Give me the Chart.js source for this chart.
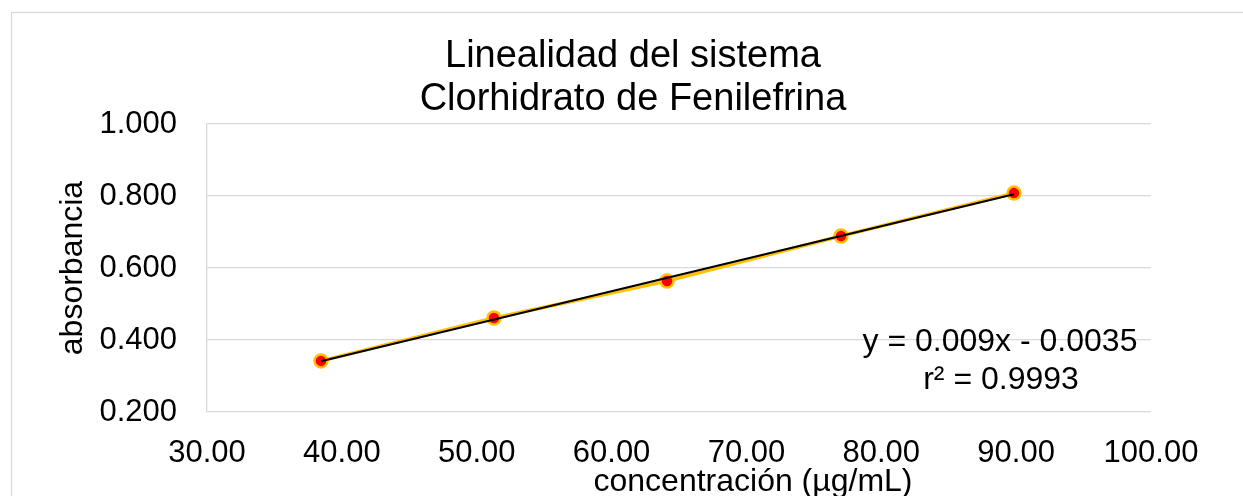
<!DOCTYPE html>
<html>
<head>
<meta charset="utf-8">
<script src="https://cdn.jsdelivr.net/npm/chart.js@4.4.1/dist/chart.umd.min.js"></script>
<style>
  body { margin: 0; background: #fff; }
  canvas { display: block; }
</style>
</head>
<body>
<canvas id="linChart" width="1243" height="496"></canvas>
<script>
    // concentración (µg/mL) y absorbancia
    var concentracion = [38.45, 51.28, 64.11, 77.01, 89.84];
    var absorbancia = [0.342, 0.461, 0.564, 0.689, 0.808];
    var titulo = ['Linealidad del sistema', 'Clorhidrato de Fenilefrina'];
    var ecuacion = ['y = 0.009x - 0.0035', 'r² = 0.9993'];

    var FONT = "'Liberation Sans', Arial, sans-serif";

    // recta de mínimos cuadrados a partir de los puntos
    var n = concentracion.length, sx = 0, sy = 0, sxy = 0, sxx = 0;
    for (var i = 0; i < n; i++) {
        sx += concentracion[i]; sy += absorbancia[i];
        sxy += concentracion[i] * absorbancia[i]; sxx += concentracion[i] * concentracion[i];
    }
    var m = (n * sxy - sx * sy) / (n * sxx - sx * sx);
    var b = (sy - m * sx) / n;
    var xMin = Math.min.apply(null, concentracion), xMax = Math.max.apply(null, concentracion);
    var tendencia = [{x: xMin, y: m * xMin + b}, {x: xMax, y: m * xMax + b}];

    var puntos = concentracion.map(function(c, i) { return {x: c, y: absorbancia[i]}; });

    var extras = {
        id: 'extras',
        beforeDraw: function(chart) {
            var c = chart.ctx;
            c.save();
            c.fillStyle = '#fff';
            c.fillRect(0, 0, chart.width, chart.height);
            c.strokeStyle = '#d9d9d9';
            c.lineWidth = 1.3;
            c.strokeRect(11.5, 12.5, 1400, 700);
            c.restore();
        },
        afterDraw: function(chart) {
            var c = chart.ctx;
            c.save();
            c.fillStyle = '#000';
            c.textAlign = 'center';
            c.textBaseline = 'middle';
            c.font = '38px ' + FONT;
            c.fillText(titulo[0], 633, 57);
            c.fillText(titulo[1], 633, 100);
            c.font = '32px ' + FONT;
            c.fillText('concentración (µg/mL)', 753, 482);
            c.fillText(ecuacion[0], 1000, 342);
            c.fillText(ecuacion[1], 1001, 380);
            c.translate(73, 268);
            c.rotate(-Math.PI / 2);
            c.fillText('absorbancia', 0, 0);
            c.restore();
        }
    };

    var ctx = document.getElementById('linChart').getContext('2d');
    var linChart = new Chart(ctx, {
        type: 'scatter',
        data: {
            datasets: [{
                label: 'tendencia',
                data: tendencia,
                showLine: true,
                borderColor: '#000',
                borderWidth: 2,
                pointRadius: 0,
                order: 0
            }, {
                label: 'absorbancia',
                data: puntos,
                showLine: true,
                borderColor: '#FFC000',
                borderWidth: 3.5,
                pointRadius: 6.5,
                pointBackgroundColor: '#FF0000',
                pointBorderColor: '#FFC000',
                pointBorderWidth: 2.5,
                order: 1
            }]
        },
        options: {
            responsive: false,
            animation: false,
            layout: { padding: { left: 0, right: 92, top: 124, bottom: 0 } },
            plugins: {
                legend: { display: false },
                tooltip: { enabled: false },
                title: { display: false }
            },
            scales: {
                x: {
                    type: 'linear',
                    min: 30, max: 100,
                    ticks: {
                        stepSize: 10,
                        color: '#000',
                        padding: 23,
                        maxRotation: 0,
                        font: { family: FONT, size: 31 },
                        callback: function(v) { return v.toFixed(2); }
                    },
                    grid: { display: false, drawTicks: false },
                    border: { display: false },
                    afterFit: function(scale) { scale.height = 84; }
                },
                y: {
                    min: 0.2, max: 1.0,
                    ticks: {
                        stepSize: 0.2,
                        color: '#000',
                        padding: 30,
                        font: { family: FONT, size: 31 },
                        callback: function(v) { return v.toFixed(3); }
                    },
                    grid: { color: '#d9d9d9', lineWidth: 1.3, drawTicks: false },
                    border: { color: '#d9d9d9', width: 1.3 },
                    afterFit: function(scale) { scale.width = 207; }
                }
            }
        },
        plugins: [extras]
    });
</script>
</body>
</html>
